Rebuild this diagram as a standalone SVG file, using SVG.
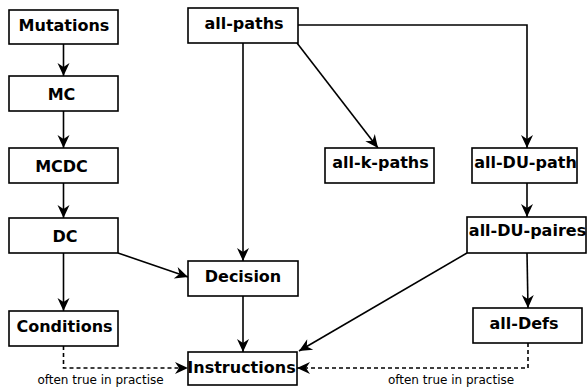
<svg xmlns="http://www.w3.org/2000/svg" width="587" height="387" viewBox="0 0 587 387">
<style>
.box{fill:#fff;stroke:#000;stroke-width:1.6}
.lbl{font-family:"DejaVu Sans",sans-serif;font-weight:bold;font-size:16px;fill:#000;text-anchor:middle}
.note{font-family:"DejaVu Sans",sans-serif;font-size:12px;fill:#000;text-anchor:middle}
.c{fill:none;stroke:#000;stroke-width:1.6}
.d{fill:none;stroke:#000;stroke-width:1.6;stroke-dasharray:4,3}
</style>
<defs>
<marker id="ah" viewBox="-14 -7 15 14" refX="0" refY="0" markerWidth="15" markerHeight="14" markerUnits="userSpaceOnUse" orient="auto">
<path d="M0,0 L-13,-6 L-9,0 L-13,6 Z" fill="#000"/>
</marker>
</defs>
<g id="connectors">
<path class="c" d="M63.5,44 V76" marker-end="url(#ah)"/>
<path class="c" d="M63.5,111 V148" marker-end="url(#ah)"/>
<path class="c" d="M63.5,183 V218" marker-end="url(#ah)"/>
<path class="c" d="M63.5,253 V311" marker-end="url(#ah)"/>
<path class="c" d="M118,253 L188,277" marker-end="url(#ah)"/>
<path class="c" d="M243,43 V261" marker-end="url(#ah)"/>
<path class="c" d="M297,43 L378,148" marker-end="url(#ah)"/>
<path class="c" d="M298,25 H527 V148" marker-end="url(#ah)"/>
<path class="c" d="M527,183 V217" marker-end="url(#ah)"/>
<path class="c" d="M527,253 L528,308" marker-end="url(#ah)"/>
<path class="c" d="M467,253 L299,351" marker-end="url(#ah)"/>
<path class="c" d="M243,296 V352" marker-end="url(#ah)"/>
<path class="d" d="M63.5,346 V368 H188" marker-end="url(#ah)"/>
<path class="d" d="M528,343 V368 H297" marker-end="url(#ah)"/>
</g>
<g id="mutations"><rect class="box" x="9" y="10" width="109" height="34"/><text class="lbl" x="64" y="31">Mutations</text></g>
<g id="mc"><rect class="box" x="9" y="76" width="109" height="35"/><text class="lbl" x="61.5" y="100">MC</text></g>
<g id="mcdc"><rect class="box" x="9" y="148" width="109" height="35"/><text class="lbl" x="61.5" y="172">MCDC</text></g>
<g id="dc"><rect class="box" x="9" y="218" width="109" height="35"/><text class="lbl" x="65" y="242">DC</text></g>
<g id="conditions"><rect class="box" x="9" y="311" width="109" height="35"/><text class="lbl" x="64.5" y="332">Conditions</text></g>
<g id="all-paths"><rect class="box" x="188" y="8" width="110" height="35"/><text class="lbl" x="244" y="29">all-paths</text></g>
<g id="decision"><rect class="box" x="188" y="261" width="110" height="35"/><text class="lbl" x="243" y="282">Decision</text></g>
<g id="instructions"><rect class="box" x="188" y="352" width="109" height="33"/><text class="lbl" x="241.5" y="373">Instructions</text></g>
<g id="all-k-paths"><rect class="box" x="325" y="148" width="109" height="35"/><text class="lbl" x="380.5" y="168">all-k-paths</text></g>
<g id="all-du-path"><rect class="box" x="472" y="148" width="105" height="35"/><text class="lbl" x="525.5" y="168">all-DU-path</text></g>
<g id="all-du-paires"><rect class="box" x="467" y="217" width="119" height="36"/><text class="lbl" x="527.5" y="236">all-DU-paires</text></g>
<g id="all-defs"><rect class="box" x="473" y="308" width="109" height="35"/><text class="lbl" x="524" y="329">all-Defs</text></g>
<text class="note" x="100.5" y="384">often true in practise</text>
<text class="note" x="451" y="384">often true in practise</text>
</svg>
